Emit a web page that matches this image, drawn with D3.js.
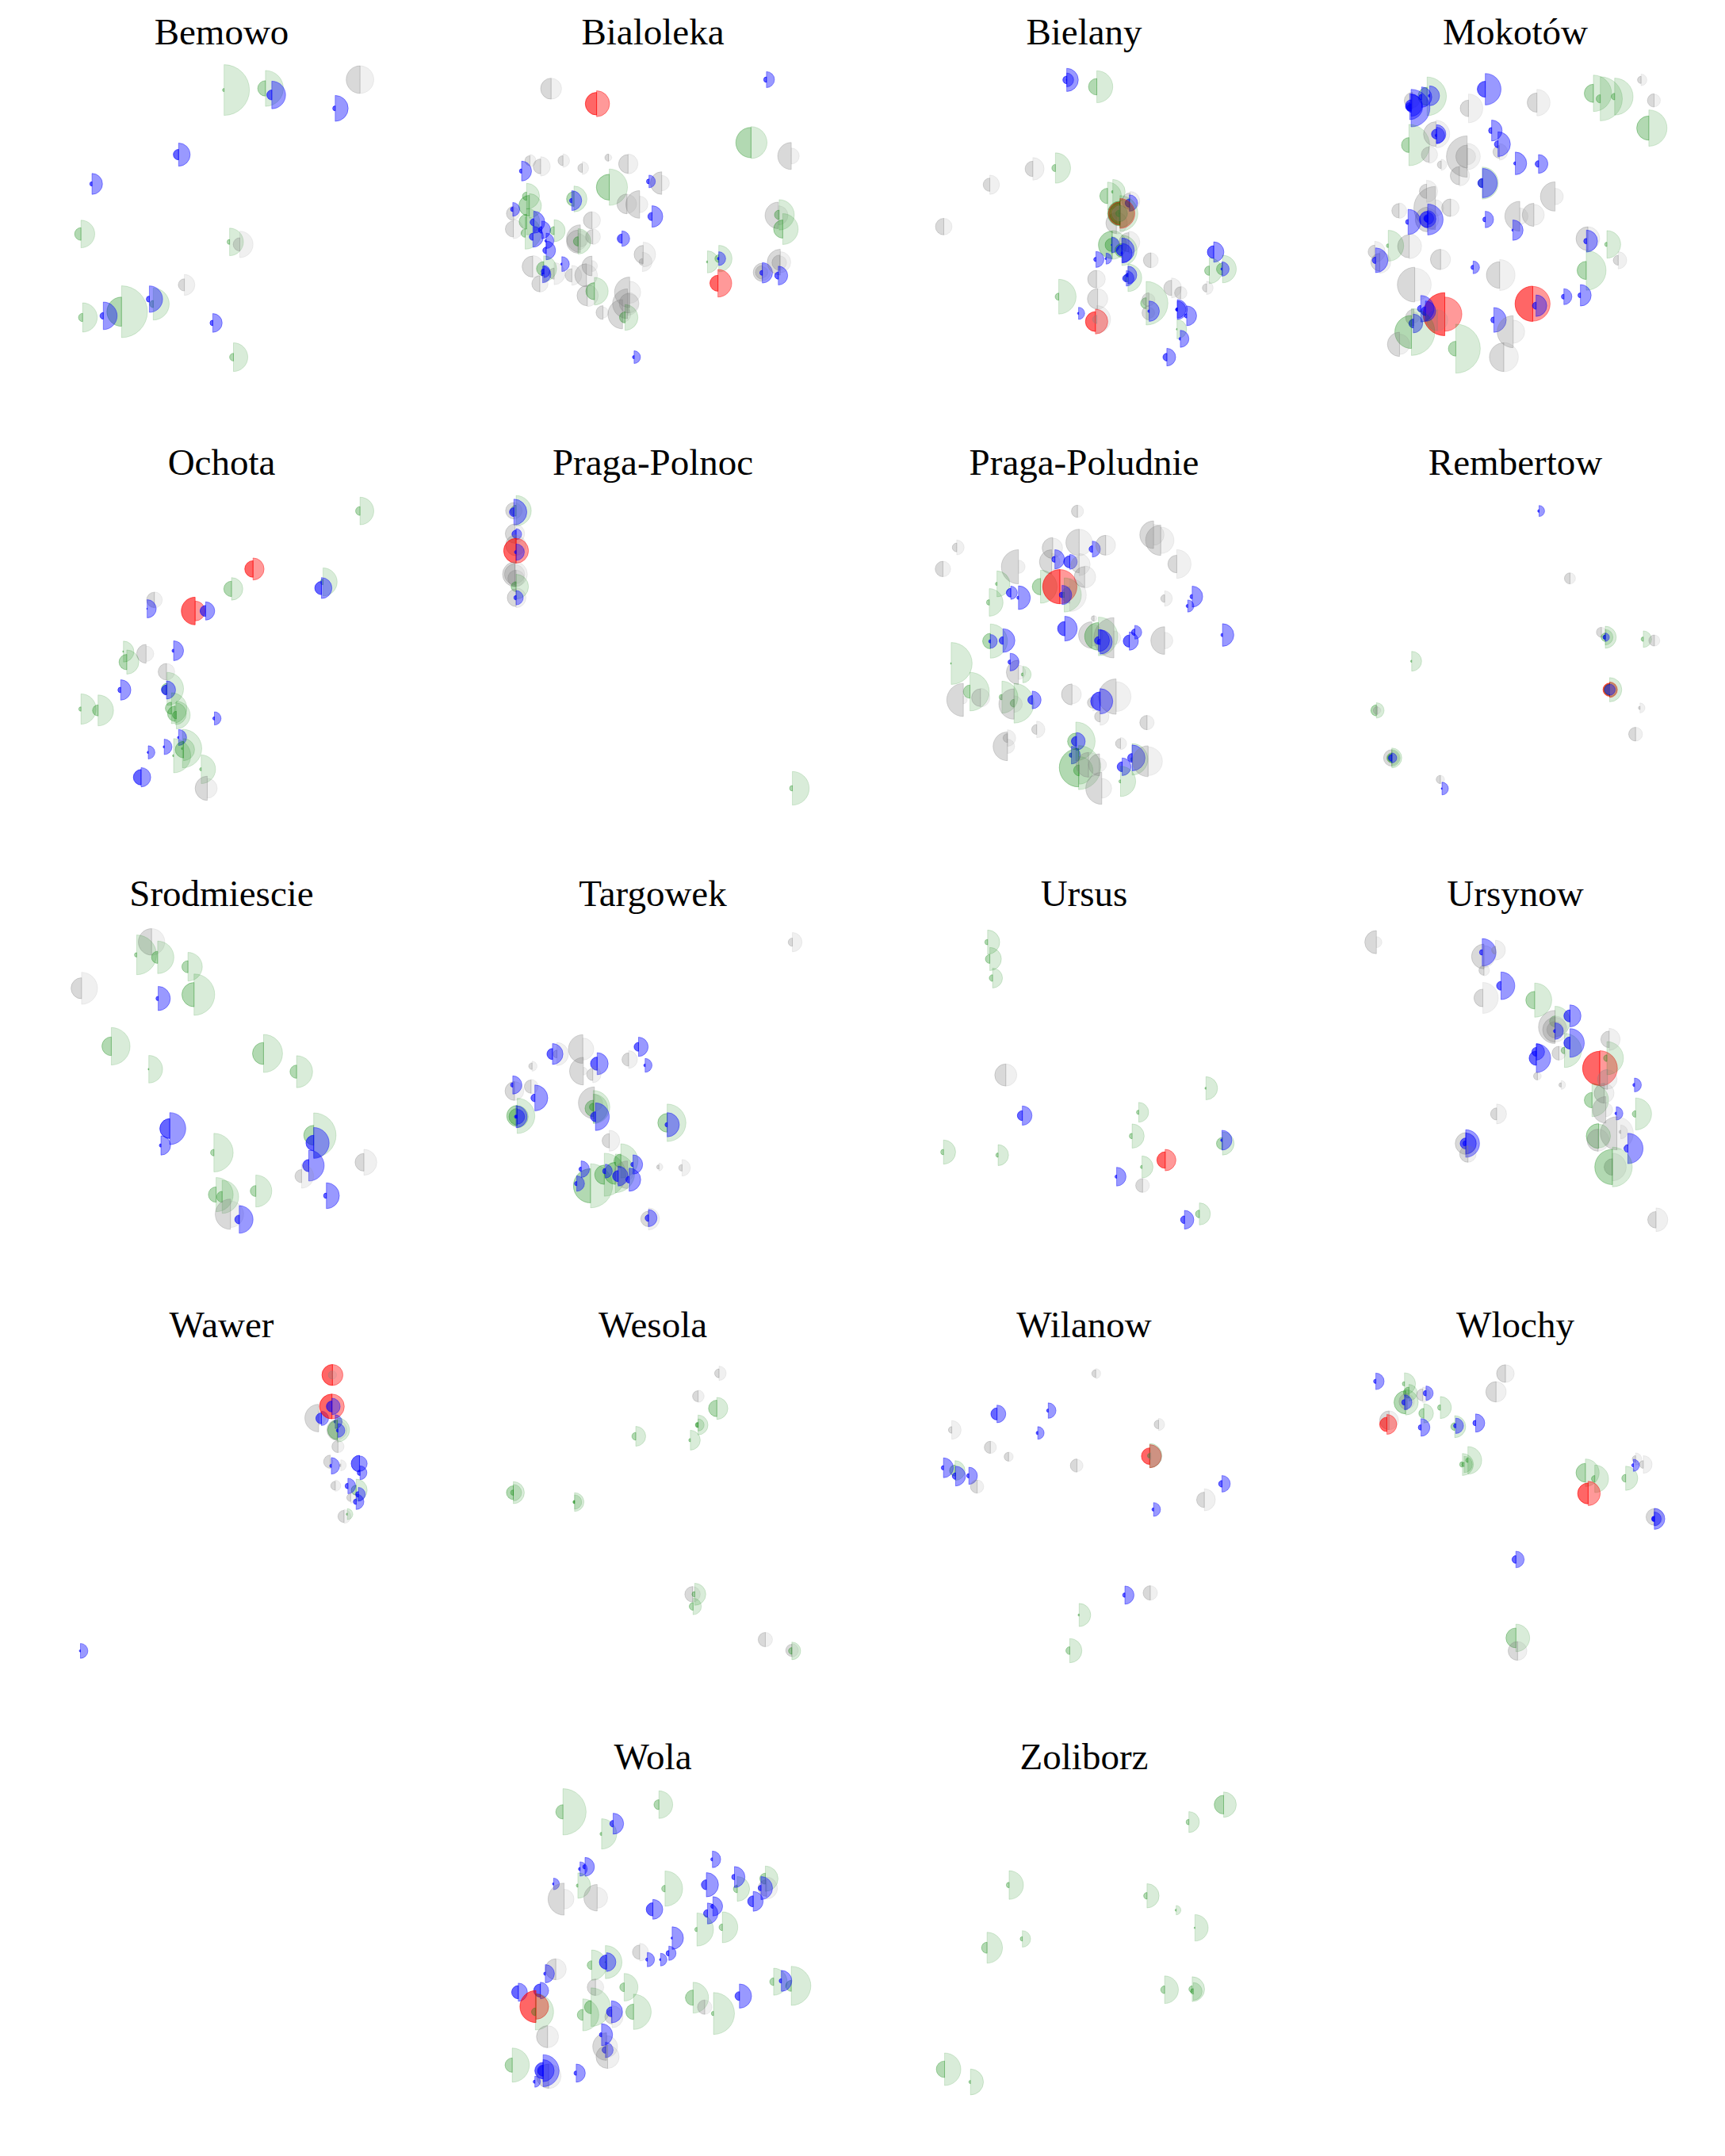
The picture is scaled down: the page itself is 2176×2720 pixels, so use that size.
<!DOCTYPE html>
<html>
<head>
<meta charset="utf-8">
<title>Warsaw districts</title>
<script src="https://cdnjs.cloudflare.com/ajax/libs/d3/7.8.5/d3.min.js"></script>
<style>
    html, body { margin: 0; padding: 0; background: #fff; }
    .title { font-family: "Liberation Serif", serif; font-size: 47px; text-anchor: middle; fill: #000; }
</style>
</head>
<body>
<div id="chart"></div>
<script>
// each row: category, x, y, left value, right value (map units, 0-1564 across a panel)
// g = green, b = blue, k = grey, r = red
const bemowo = [
    ["g",817,329,6,92],["g",967,323,28,65],["b",990,347,18,50],["b",1220,396,9,47],["k",1310,291,50,50],
    ["b",652,565,19,42],["b",338,672,8,38],["g",298,855,23,50],["g",837,884,9,50],["k",874,893,24,48],
    ["k",673,1041,22,38],["g",560,1111,13,58],["b",546,1093,11,48],["g",445,1139,53,94],["b",379,1154,12,50],
    ["g",304,1160,15,53],["b",776,1180,10,34],["g",851,1305,14,52]
];
const bialoleka = [
    ["k",439,324,38,38],["r",604,379,41,47],["b",1220,291,10,29],["g",1164,521,55,58],["k",1310,570,49,29],
    ["k",362,587,18,22],["k",401,608,27,35],["b",332,625,8,36],["k",482,587,18,24],["k",552,614,16,23],
    ["k",647,576,13,12],["k",718,599,34,36],["g",650,684,47,66],["k",840,669,41,28],["b",794,663,9,23],
    ["g",522,727,27,47],["b",514,733,8,36],["g",350,717,15,47],["g",360,752,38,44],["k",303,780,26,22],
    ["b",300,765,8,25],["k",760,747,50,30],["k",714,745,36,35],["b",805,791,15,39],["k",587,805,31,31],
    ["g",350,810,27,48],["k",302,837,29,35],["g",345,852,15,58],["b",376,812,13,40],["b",405,840,12,32],
    ["g",450,843,15,40],["b",373,865,13,38],["k",545,872,50,30],["k",590,865,26,28],["k",537,883,42,30],
    ["g",537,882,17,46],["b",421,880,5,28],["b",696,872,17,28],["b",421,915,12,34],["k",773,930,33,45],
    ["k",770,957,12,35],["g",1006,957,4,40],["g",1047,945,14,48],["b",1047,945,5,25],["k",372,974,38,40],
    ["k",450,1000,20,40],["g",412,982,26,47],["b",478,965,4,27],["k",587,972,36,20],["b",408,1003,5,30],
    ["b",413,992,10,22],["k",567,1006,42,40],["k",514,1006,24,36],["k",398,1037,29,30],["k",570,1080,37,40],
    ["g",596,1064,31,50],["k",724,1068,55,40],["k",716,1110,54,42],["k",722,1108,36,35],["k",698,1148,53,30],
    ["g",707,1160,20,47],["k",627,1142,25,20],["b",740,1305,6,23],["r",1044,1035,29,50],["k",1263,787,48,35],
    ["g",1266,785,17,55],["g",1279,837,33,56],["k",1205,995,33,30],["k",1205,995,25,20],["b",1205,997,9,37],
    ["k",1270,958,47,38],["k",1268,960,28,25],["b",1263,1007,13,34]
];
const bielany = [
    ["b",745,292,14,42],["b",745,292,2,25],["g",854,317,30,58],["g",704,614,13,55],["k",622,617,28,41],
    ["k",466,675,24,35],["k",299,828,30,30],["g",893,716,28,50],["g",912,701,5,45],["k",975,735,30,35],
    ["b",972,742,15,30],["k",925,815,38,40],["r",938,780,42,54],["g",938,780,45,65],["g",938,780,38,50],
    ["g",935,780,12,30],["k",938,780,28,28],["g",910,895,50,52],["g",908,895,24,30],["b",908,895,2,28],
    ["k",970,885,35,40],["g",945,915,25,55],["b",945,915,20,45],["b",947,925,5,35],["b",851,948,8,29],
    ["b",888,945,4,20],["k",1050,951,27,27],["b",1278,921,23,37],["g",1262,989,17,47],["g",1310,983,22,50],
    ["b",1308,983,4,26],["g",967,1015,15,50],["b",967,1005,7,32],["b",961,1017,13,28],["k",853,1020,32,32],
    ["g",716,1084,13,63],["k",857,1092,37,37],["k",1125,1052,28,36],["k",1158,1070,22,23],["k",1252,1052,15,24],
    ["g",1033,1108,20,79],["k",1043,1095,25,22],["k",1044,1143,26,20],["b",1044,1137,5,37],["b",1146,1131,6,31],
    ["b",1146,1131,6,36],["b",1180,1154,8,36],["b",788,1145,4,22],["r",849,1175,36,45],["k",854,1167,15,50],
    ["g",1145,1203,3,35],["b",1157,1238,5,31],["b",1108,1305,14,32]
];
const mokotow = [
    ["b",699,326,29,57],["g",488,352,33,70],["b",497,350,5,36],["b",468,355,10,37],["k",435,368,30,25],
    ["b",425,390,15,47],["b",430,395,15,68],["b",430,385,20,40],["k",638,396,30,52],["k",886,375,35,48],
    ["g",1091,341,33,66],["g",1116,361,15,80],["g",1168,353,12,67],["k",1264,292,13,21],["k",1311,367,24,23],
    ["g",1292,468,44,66],["g",422,530,27,75],["k",495,565,28,31],["b",722,477,11,38],["k",750,555,23,30],
    ["b",745,527,13,45],["k",520,490,45,50],["b",522,490,18,34],["b",522,495,5,30],["k",633,572,75,48],
    ["k",634,572,42,30],["k",539,602,14,20],["k",605,642,33,37],["b",808,597,6,41],["b",892,599,12,34],
    ["g",688,669,15,58],["b",689,669,17,53],["k",486,699,26,40],["k",518,760,78,30],["k",386,770,26,28],
    ["k",573,759,32,31],["k",952,718,53,30],["k",490,802,45,40],["b",490,802,30,56],["b",490,798,14,22],
    ["b",490,800,12,30],["b",419,811,9,46],["b",699,802,9,30],["k",824,790,54,30],["k",875,785,42,38],
    ["b",799,841,4,37],["k",423,900,42,45],["g",347,898,7,56],["k",298,920,24,38],["k",316,958,32,40],
    ["b",301,951,12,45],["k",537,948,37,36],["b",655,977,8,23],["k",751,1005,48,56],["k",1071,872,43,43],
    ["b",1066,881,10,40],["g",1140,893,8,50],["k",1181,951,18,31],["g",1065,988,33,72],["k",443,1040,63,60],
    ["r",552,1148,78,62],["r",871,1110,64,63],["b",883,1117,13,39],["b",984,1084,9,29],["b",1044,1079,9,39],
    ["k",525,1170,38,38],["k",440,1160,30,20],["b",465,1128,12,48],["b",482,1137,16,37],["b",438,1182,16,34],
    ["g",431,1213,60,85],["k",388,1258,44,37],["g",592,1274,27,89],["b",730,1169,11,45],["k",800,1212,58,42],
    ["k",766,1305,52,53]
];
const ochota = [
    ["g",1310,286,16,50],["r",922,496,30,40],["g",844,568,28,41],["g",1176,543,10,51],["b",1170,565,24,38],
    ["k",564,608,28,29],["b",538,640,2,33],["r",712,648,50,36],["b",750,648,20,33],["b",634,792,6,36],
    ["g",452,795,3,38],["k",534,803,34,28],["g",464,833,28,44],["k",608,868,30,30],["g",610,930,20,60],
    ["b",608,934,18,33],["b",442,934,10,37],["g",298,1003,8,55],["g",360,1008,20,56],["g",626,1000,22,56],
    ["g",644,1025,14,50],["g",640,1020,28,40],["b",782,1037,6,24],["g",666,1146,4,70],["b",652,1106,4,29],
    ["g",670,1150,30,40],["b",600,1140,4,28],["b",542,1160,4,24],["g",634,1172,4,62],["b",516,1250,28,35],
    ["g",734,1221,6,52],["k",756,1290,44,36]
];
const pragaPolnoc = [
    ["g",312,285,20,55],["k",304,285,30,30],["b",304,290,16,47],["k",308,368,35,35],["b",312,370,15,20],
    ["k",312,410,38,36],["r",312,430,45,45],["b",312,435,6,30],["k",308,515,45,35],["k",308,515,38,45],
    ["k",312,530,30,30],["g",312,560,18,45],["k",312,600,32,36],["b",312,600,8,26],["g",1314,1290,10,61]
];
const pragaPoludnie = [
    ["k",784,287,22,22],["k",346,418,16,27],["k",296,496,28,28],["k",790,400,48,48],["k",694,420,38,36],
    ["b",838,424,12,29],["k",1060,372,50,38],["k",1086,392,55,48],["k",886,410,36,36],["k",570,488,62,24],
    ["k",690,470,44,30],["b",702,461,11,35],["b",756,470,22,27],["k",1144,478,32,52],["k",810,525,38,40],
    ["k",790,480,30,40],["g",492,550,6,47],["g",650,560,30,60],["r",720,560,62,62],["g",736,590,10,62],
    ["k",756,590,30,60],["b",728,590,10,35],["b",542,582,16,24],["b",570,600,6,43],["g",464,617,10,50],
    ["k",1100,603,14,28],["b",1200,596,8,38],["b",1184,630,6,22],["k",844,675,10,10],["b",738,712,26,45],
    ["k",836,735,48,40],["g",860,740,50,70],["k",916,745,73,25],["b",860,755,14,40],["b",866,760,10,44],
    ["b",992,725,12,25],["b",972,757,22,33],["k",1100,755,50,30],["b",1310,735,6,41],["g",468,757,28,62],
    ["b",468,758,6,25],["b",514,755,14,43],["g",326,838,3,76],["k",570,870,44,26],["b",540,833,8,32],
    ["g",586,878,6,30],["g",394,940,24,70],["k",370,970,60,14],["k",432,962,32,34],["g",510,960,10,58],
    ["g",554,982,14,72],["k",554,985,55,30],["b",620,970,16,32],["k",764,950,38,34],["k",924,958,64,54],
    ["k",840,980,20,30],["b",866,975,34,46],["k",866,1030,20,32],["k",1036,1052,26,26],["k",636,1077,18,30],
    ["k",530,1108,16,30],["k",530,1138,52,26],["g",778,1120,30,70],["b",780,1120,18,32],["b",762,1170,8,32],
    ["g",788,1215,70,80],["g",790,1225,20,50],["k",824,1205,45,45],["k",864,1205,40,25],["k",872,1290,58,36],
    ["k",940,1128,18,22],["b",946,1212,18,32],["g",982,1185,6,57],["b",982,1180,16,47],["k",1040,1192,56,52],
    ["g",940,1265,6,55]
];
const rembertow = [
    ["b",894,286,5,20],["k",1006,530,20,20],["g",432,830,4,36],["k",1120,725,18,18],["g",1134,743,8,40],
    ["g",1134,743,15,28],["b",1134,743,8,15],["g",1272,750,8,30],["k",1312,755,20,20],["g",1150,933,22,44],
    ["r",1150,933,24,28],["g",1150,933,20,26],["b",1150,933,18,20],["k",1150,933,16,16],["k",1260,999,6,18],
    ["k",1244,1094,25,25],["g",304,1008,20,28],["k",308,1008,15,12],["k",360,1180,30,26],["g",360,1180,18,36],
    ["g",360,1180,15,30],["b",360,1180,12,18],["k",536,1258,15,15],["b",542,1291,3,23]
];
const srodmiescie = [
    ["k",554,282,48,48],["g",500,329,8,72],["g",576,338,22,59],["g",686,372,22,52],["k",300,450,38,58],
    ["b",578,487,8,44],["g",708,473,44,75],["g",408,660,34,68],["g",960,686,40,69],["g",544,743,3,50],
    ["g",1080,752,24,58],["b",620,958,36,58],["b",588,1019,6,35],["g",1142,982,36,81],["b",1142,1010,28,56],
    ["g",780,1045,12,70],["b",1124,1092,22,56],["k",1324,1080,32,47],["k",1098,1130,24,44],["g",788,1197,28,62],
    ["g",810,1205,20,60],["g",932,1184,20,58],["k",840,1268,55,48],["b",872,1287,16,50],["b",1188,1201,10,47]
];
const targowek = [
    ["k",1314,283,15,35],["k",460,688,14,42],["b",444,688,20,38],["k",554,670,52,40],["k",556,750,50,14],
    ["b",756,662,16,35],["k",720,708,24,32],["b",780,729,5,25],["k",370,732,12,18],["b",606,723,24,40],
    ["k",590,762,22,30],["k",306,822,34,34],["b",300,800,8,33],["k",366,806,24,26],["b",380,847,14,47],
    ["g",316,912,38,64],["g",316,915,30,40],["b",312,915,6,40],["b",316,915,6,27],["k",596,865,58,30],
    ["g",592,880,14,60],["g",592,885,30,52],["b",600,915,18,50],["g",860,937,34,68],["b",860,944,8,44],
    ["k",650,1002,26,38],["g",692,1075,25,62],["g",632,1125,35,78],["g",582,1165,62,80],["g",672,1120,40,70],
    ["k",716,1125,50,20],["b",736,1088,8,35],["k",830,1097,8,14],["k",914,1100,12,30],["b",548,1105,8,30],
    ["b",636,1112,10,25],["b",532,1157,8,28],["b",682,1130,20,36],["b",722,1143,12,42],["k",792,1285,28,40],
    ["b",792,1282,12,31]
];
const ursus = [
    ["g",458,283,10,44],["g",466,344,16,42],["g",476,413,12,36],["k",524,764,40,40],["b",584,911,18,35],
    ["g",1250,812,4,42],["g",1006,899,8,36],["g",982,985,10,44],["g",1310,1012,22,42],["b",1308,1000,5,36],
    ["g",298,1043,10,44],["g",496,1054,8,38],["r",1102,1072,30,39],["g",1018,1097,6,40],["b",926,1132,6,34],
    ["k",1020,1164,25,25],["g",1226,1267,14,40],["b",1172,1288,14,34]
];
const ursynow = [
    ["k",304,283,42,20],["k",694,335,45,40],["b",688,320,10,50],["k",736,312,14,36],["k",694,385,18,20],
    ["b",756,441,16,50],["k",690,485,32,56],["g",878,493,32,62],["g",952,570,20,55],["b",1006,550,22,40],
    ["k",952,590,60,40],["k",952,600,45,45],["k",952,600,30,30],["b",952,605,6,30],["g",986,675,12,62],
    ["k",966,685,25,25],["b",1006,648,22,52],["b",884,703,26,52],["b",884,680,16,30],["k",888,768,14,14],
    ["k",974,800,8,16],["r",1114,740,62,64],["g",1140,703,12,60],["k",1148,635,30,40],["k",1142,780,36,35],
    ["k",1130,830,36,36],["b",1240,800,6,25],["g",1086,855,28,60],["k",1136,890,48,25],["b",1174,903,5,24],
    ["g",1244,905,12,58],["k",740,905,22,36],["k",1176,975,60,60],["g",1110,985,45,43],["k",1108,1000,40,40],
    ["k",1190,970,6,25],["k",630,1012,40,38],["b",628,1012,20,50],["b",628,1012,10,38],["k",636,1050,30,30],
    ["b",1216,1030,14,55],["k",1160,1097,30,50],["g",1160,1097,64,72],["k",1318,1288,30,43]
];
const wawer = [
    ["r",1210,286,38,38],["k",1210,286,15,15],["k",1160,442,50,25],["b",1170,443,20,26],["r",1208,400,45,45],
    ["b",1208,400,20,30],["b",1220,455,5,25],["k",1228,485,38,35],["g",1228,485,35,44],["b",1230,487,6,25],
    ["k",1230,545,22,22],["k",1202,600,24,10],["b",1206,615,6,30],["k",1240,613,5,20],["b",1308,607,30,28],
    ["b",1310,640,10,25],["k",1220,687,16,20],["g",1296,703,18,40],["b",1266,688,10,28],["b",1304,718,10,25],
    ["k",1276,730,14,20],["b",1296,745,10,28],["g",1264,790,4,20],["k",1252,798,22,25],["b",296,1285,4,27]
];
const wesola = [
    ["k",1048,280,16,26],["k",972,363,20,22],["g",1040,407,30,40],["g",972,467,10,36],["g",972,467,8,22],
    ["g",746,508,14,36],["g",944,522,6,36],["g",302,712,25,40],["g",302,712,10,30],["g",524,746,6,34],
    ["g",524,746,5,26],["k",952,1080,28,28],["g",960,1080,10,40],["g",954,1124,14,30],["k",1216,1244,26,26],
    ["k",1312,1283,22,24],["g",1312,1285,12,32]
];
const wilanow = [
    ["k",850,281,14,18],["b",492,427,22,32],["b",678,415,6,28],["k",328,485,12,34],["b",640,496,6,23],
    ["k",1078,465,16,22],["k",468,548,22,22],["k",534,582,16,17],["k",782,614,24,22],["r",1046,580,30,42],
    ["g",1046,578,8,44],["k",1050,580,12,40],["g",340,632,20,36],["b",298,622,8,36],["b",342,652,12,36],
    ["b",390,651,8,31],["k",420,690,24,24],["b",1308,680,12,30],["k",1244,738,28,40],["b",1060,773,6,25],
    ["b",956,1083,8,33],["k",1048,1075,26,26],["g",790,1155,4,42],["g",756,1284,14,44]
];
const wlochy = [
    ["b",302,309,8,30],["g",406,318,8,40],["k",772,281,32,32],["k",738,347,37,37],["g",422,350,20,30],
    ["g",410,385,42,46],["k",472,358,22,28],["b",484,352,10,26],["k",416,382,30,26],["b",406,385,10,27],
    ["g",536,404,10,40],["g",476,425,18,35],["k",350,450,34,34],["r",342,465,26,36],["b",466,476,10,32],
    ["g",588,473,14,40],["b",592,470,8,28],["b",664,460,10,33],["g",636,595,8,50],["g",616,610,10,40],
    ["g",622,610,8,30],["g",1062,640,34,50],["g",1096,662,12,50],["g",1208,660,14,44],["k",1244,590,12,22],
    ["k",1272,610,14,32],["b",1236,613,6,22],["r",1072,715,38,44],["k",1312,800,30,32],["b",1312,807,10,38],
    ["b",1312,807,8,25],["b",810,954,14,30],["g",810,1238,36,50],["k",816,1285,34,34]
];
const wola = [
    ["g",482,318,26,84],["g",830,292,18,50],["g",622,398,6,55],["b",664,361,12,38],["b",1024,490,6,30],
    ["b",562,517,8,34],["b",544,525,6,26],["g",536,585,6,46],["b",448,579,4,21],["k",486,634,58,36],
    ["k",606,629,48,38],["g",852,596,12,64],["b",1002,582,18,44],["g",1114,597,14,45],["b",1104,554,10,38],
    ["g",1216,560,20,46],["k",1220,594,30,40],["b",1200,594,10,42],["b",1172,642,20,36],["b",1026,660,8,35],
    ["b",1006,686,14,38],["b",808,671,24,36],["g",968,744,8,60],["g",1060,736,12,56],["b",878,775,4,41],
    ["k",760,826,26,32],["b",866,830,10,26],["b",836,853,4,23],["b",788,853,6,26],["g",636,862,2,60],
    ["g",586,873,16,55],["b",640,862,26,34],["k",456,888,38,38],["b",418,904,6,33],["b",320,971,24,33],
    ["b",400,965,24,30],["k",600,953,30,30],["g",704,953,16,50],["g",954,991,28,56],["b",1122,985,16,44],
    ["g",1246,933,14,49],["g",1310,948,20,71],["b",1274,930,8,38],["r",384,1023,58,46],["g",382,1042,14,66],
    ["g",584,1025,24,70],["g",554,1053,20,58],["k",660,1060,26,40],["b",658,1042,18,40],["g",738,1042,28,64],
    ["g",1028,1048,8,76],["k",996,1025,26,26],["k",426,1132,40,40],["k",640,1168,50,40],["b",622,1125,8,40],
    ["b",636,1180,12,28],["k",644,1205,42,42],["g",298,1235,26,62],["k",430,1275,44,45],["b",410,1255,30,58],
    ["b",410,1255,20,40],["b",380,1295,6,20],["b",530,1264,8,33]
];
const zoliborz = [
    ["g",1314,292,34,46],["g",1188,355,10,38],["g",536,583,10,52],["g",1036,622,12,44],["g",1142,674,4,17],
    ["g",1210,738,3,48],["g",456,810,20,56],["g",584,778,8,30],["g",1100,962,14,50],["g",1200,960,12,45],
    ["g",1204,968,10,32],["g",302,1250,30,59],["g",396,1296,6,47]
];

const districts = ["Bemowo", "Bialoleka", "Bielany", "Mokotów", "Ochota", "Praga-Polnoc", "Praga-Poludnie", "Rembertow",
    "Srodmiescie", "Targowek", "Ursus", "Ursynow", "Wawer", "Wesola", "Wilanow", "Wlochy", "Wola", "Zoliborz"];
const districtData = [bemowo, bialoleka, bielany, mokotow, ochota, pragaPolnoc, pragaPoludnie, rembertow,
    srodmiescie, targowek, ursus, ursynow, wawer, wesola, wilanow, wlochy, wola, zoliborz];
const categories = ["g", "b", "k", "r"];
const categoryColors = ["green", "blue", "gray", "red"];
const leftOpacity = [0.3, 0.6, 0.3, 0.6];
const rightOpacity = [0.15, 0.4, 0.12, 0.4];

const width = 2176, height = 2720, panelSize = 544;
const rowTops = [0, 545, 1090, 1635, 2175];
const rowHeights = [540, 545, 545, 545, 545];
const titleBaselines = [55.6, 599, 1143, 1687, 2232];

const x = d3.scaleLinear().domain([0, 1564]).range([-1.5, panelSize - 1.5]);
const radius = d3.scaleLinear().domain([0, 1564]).range([0, panelSize]);
const color = d3.scaleOrdinal().domain(categories).range(categoryColors);
const leftAlpha = d3.scaleOrdinal().domain(categories).range(leftOpacity);
const rightAlpha = d3.scaleOrdinal().domain(categories).range(rightOpacity);

const svg = d3.select("#chart").append("svg")
    .attr("width", width)
    .attr("height", height)
    .style("display", "block");

const arc = d3.arc().innerRadius(0);

districts.forEach(function (name, i) {
    // last row only has two panels, they sit in the middle columns
    const row = Math.floor(i / 4);
    const col = row === 4 ? (i % 4) + 1 : i % 4;

    const y = d3.scaleLinear().domain([0, 1564]).range([0, rowHeights[row]]);

    const panel = svg.append("g")
        .attr("transform", "translate(" + (col * panelSize) + "," + rowTops[row] + ")");

    svg.append("text")
        .attr("class", "title")
        .attr("x", col * panelSize + 279.5)
        .attr("y", titleBaselines[row])
        .text(name);

    const marks = panel.selectAll("g.mark")
        .data(districtData[i])
        .join("g")
        .attr("class", "mark")
        .attr("transform", d => "translate(" + x(d[1]) + "," + y(d[2]) + ")");

    // left half
    marks.append("path")
        .attr("d", d => arc({outerRadius: radius(d[3]), startAngle: -Math.PI, endAngle: 0}))
        .attr("fill", d => color(d[0]))
        .attr("stroke", d => color(d[0]))
        .attr("fill-opacity", d => leftAlpha(d[0]))
        .attr("stroke-opacity", d => leftAlpha(d[0]));

    // right half
    marks.append("path")
        .attr("d", d => arc({outerRadius: radius(d[4]), startAngle: 0, endAngle: Math.PI}))
        .attr("fill", d => color(d[0]))
        .attr("stroke", d => color(d[0]))
        .attr("fill-opacity", d => rightAlpha(d[0]))
        .attr("stroke-opacity", d => rightAlpha(d[0]));
});
</script>
</body>
</html>
